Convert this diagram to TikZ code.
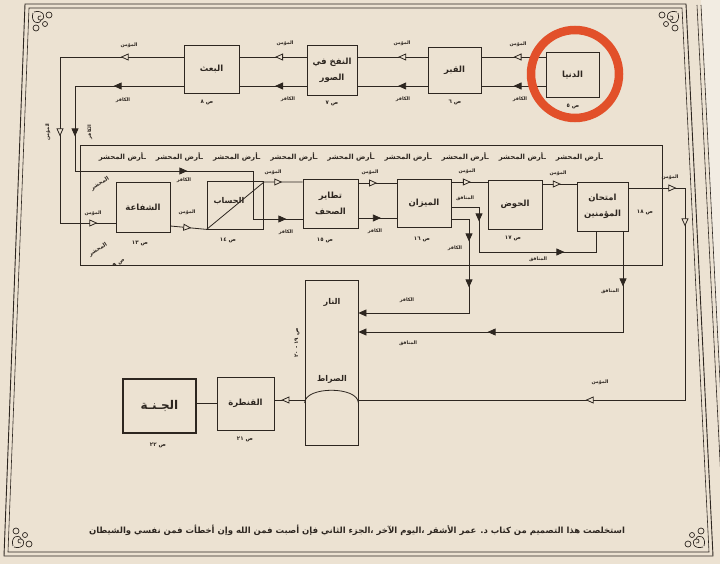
\documentclass[tikz,border=0pt]{standalone}
\usepackage{fontspec}
\newfontfamily\arabicfont[Script=Arabic]{DejaVu Sans}
\TeXXeTstate=1
\usetikzlibrary{arrows.meta,decorations.markings}
\definecolor{paper}{RGB}{236,226,210}
\definecolor{paper2}{RGB}{242,236,226}
\definecolor{ink}{RGB}{45,38,32}
\definecolor{ring}{RGB}{226,80,42}
\newcommand{\AR}[1]{\beginR #1\endR}
\newcommand{\mahunit}{ـأرض المحشر}
\newcommand{\mahgap}{\hspace{10pt}}
\tikzset{
  every node/.style={text=ink},
  box/.style={draw=ink, line width=0.8pt, inner sep=0pt, align=center, font=\arabicfont\bfseries\fontsize{8.5}{16}\selectfont},
  boxtxt/.style={inner sep=0pt, font=\arabicfont\bfseries\fontsize{8}{10}\selectfont},
  lbl/.style={inner sep=0pt, font=\arabicfont\bfseries\fontsize{4.8}{6}\selectfont},
  pg/.style={inner sep=0pt, font=\arabicfont\bfseries\fontsize{5.5}{7}\selectfont},
  conn/.style={draw=ink, line width=0.8pt},
  tipf/.style={-{Triangle[length=8pt,width=7pt]}},
  oarr/.style={postaction={decorate,decoration={markings,mark=at position #1 with {\arrow{Triangle[length=8pt,width=7pt,fill=paper,line width=0.8pt]}}}}},
  farr/.style={postaction={decorate,decoration={markings,mark=at position #1 with {\arrow{Triangle[length=8pt,width=7pt]}}}}},
  orn/.pic={
    \draw[ink,line width=0.7pt] (3,2) .. controls (12,-1) and (16,8) .. (10,10) .. controls (6,11) and (6,5) .. (10,6);
    \draw[ink,line width=0.7pt] (2,3) .. controls (-1,12) and (8,16) .. (10,10);
    \draw[ink,line width=0.7pt] (18,5) circle[radius=3];
    \draw[ink,line width=0.7pt] (5,18) circle[radius=3];
    \draw[ink,line width=0.7pt] (14,14) circle[radius=2.5];
  }
}
\begin{document}
\begin{tikzpicture}[x=1pt,y=-1pt]
\useasboundingbox (0,0) rectangle (720,564);
\fill[paper] (0,0) rectangle (720,564);
\clip (0,0) rectangle (720,564);
% next page sliver
\fill[paper2] (701,0) -- (720,0) -- (720,564) -- (728,564) -- cycle;
\draw[ink,line width=0.6pt] (697,5) -- (725,560);
\draw[ink,line width=0.6pt] (701,5) -- (729,560);
% page frame
\draw[ink,line width=0.9pt] (25,4) -- (686,4) -- (713,556) -- (4,556) -- cycle;
\draw[ink,line width=0.6pt] (29,8) -- (682,8) -- (709,552) -- (8,552) -- cycle;
\pic at (31,10) {orn};
\pic[xscale=-1] at (680,10) {orn};
\pic[yscale=-1] at (11,549) {orn};
\pic[xscale=-1,yscale=-1] at (706,549) {orn};

% mahshar area
\node[draw=ink,line width=0.8pt,minimum width=582,minimum height=120,inner sep=0pt] (mahshar) at (371,205) {};
\node[inner sep=0pt,font=\arabicfont\bfseries\fontsize{7}{8}\selectfont] (mrow) at (351,157) {\AR{\mahunit\mahgap\mahunit\mahgap\mahunit\mahgap\mahunit\mahgap\mahunit\mahgap\mahunit\mahgap\mahunit\mahgap\mahunit\mahgap\mahunit}};
\node[pg,rotate=32] (mc1) at (100,184) {\AR{المحشر}};
\node[pg,rotate=32] (mc2) at (98,250) {\AR{المحشر}};
\node[pg,rotate=32] (mc3) at (119,263) {\AR{ص ٩}};

% boxes
\node[box,minimum width=53,minimum height=45] (dunya) at (572.5,74.5) {\AR{الدنيا}};
\node[box,minimum width=53,minimum height=46] (qabr) at (454.5,70) {\AR{القبر}};
\node[box,minimum width=50,minimum height=50] (nafkh) at (332,70) {\AR{النفخ في}\\\AR{الصور}};
\node[box,minimum width=55,minimum height=48] (baath) at (211.5,69) {\AR{البعث}};
\node[box,minimum width=54,minimum height=50] (shafaa) at (143,207) {\AR{الشفاعة}};
\node[box,minimum width=56,minimum height=48] (hisab) at (235,205) {};
\node[boxtxt] (hisabt) at (229,201) {\AR{الحساب}};
\node[box,minimum width=55,minimum height=49] (tatayur) at (330.5,203.5) {\AR{تطاير}\\\AR{الصحف}};
\node[box,minimum width=54,minimum height=48] (mizan) at (424,203) {\AR{الميزان}};
\node[box,minimum width=54,minimum height=49] (hawd) at (515,204.5) {\AR{الحوض}};
\node[box,minimum width=51,minimum height=49] (imtihan) at (602.5,206.5) {\AR{امتحان}\\\AR{المؤمنين}};
\node[box,minimum width=53,minimum height=165] (nar) at (331.5,362.5) {};
\node[boxtxt] (nart) at (332,302) {\AR{النار}};
\node[boxtxt] (sirat) at (332,379) {\AR{الصراط}};
\node[box,minimum width=57,minimum height=53] (qantara) at (245.5,403.5) {\AR{القنطرة}};
\node[box,line width=2pt,minimum width=73,minimum height=54,font=\arabicfont\bfseries\fontsize{12}{14}\selectfont] (janna) at (159.5,406) {\AR{الجـنـة}};

% bridge arch
\draw[ink,line width=0.8pt] (nar.west |- 0,403) .. controls (305,386) and (358,386) .. (nar.east |- 0,403);
% hisab diagonal exit
\coordinate (hx) at (264,182);

% top row
\draw[conn,oarr=0.5] (dunya.west |- 0,57) -- (qabr.east |- 0,57);
\draw[conn,farr=0.5] (dunya.west |- 0,86) -- (qabr.east |- 0,86);
\draw[conn,oarr=0.42] (qabr.west |- 0,57) -- (nafkh.east |- 0,57);
\draw[conn,farr=0.42] (qabr.west |- 0,86) -- (nafkh.east |- 0,86);
\draw[conn,oarr=0.47] (nafkh.west |- 0,57) -- (baath.east |- 0,57);
\draw[conn,farr=0.47] (nafkh.west |- 0,86) -- (baath.east |- 0,86);

% left loops
\coordinate (L1) at (60,57);
\coordinate (L2) at (60,223);
\draw[conn,oarr=63pt,oarr=203pt,oarr=327pt] (baath.west |- 0,57) -- (L1) -- (L2) -- (shafaa.west |- L2);
\coordinate (K1) at (75,86);
\coordinate (K2) at (75,171);
\coordinate (K3) at (253,171);
\coordinate (K4) at (253,219);
\draw[conn,farr=70pt,farr=159pt,farr=306pt,farr=453pt] (baath.west |- 0,86) -- (K1) -- (K2) -- (K3) -- (K4) -- (tatayur.west |- K4);
\draw[conn,oarr=21pt,oarr=129pt] (shafaa.east |- 0,226) -- (hisab.south west) -- (hx) -- (tatayur.west |- hx);

% middle row
\draw[conn,oarr=0.49] (tatayur.east |- 0,183) -- (mizan.west |- 0,183);
\draw[conn,farr=0.59] (tatayur.east |- 0,218) -- (mizan.west |- 0,218);
\draw[conn,oarr=0.54] (mizan.east |- 0,182) -- (hawd.west |- 0,182);
\draw[conn,oarr=0.54] (hawd.east |- 0,184) -- (imtihan.west |- 0,184);

% believers to the bridge
\coordinate (M1) at (685,188);
\coordinate (M2) at (685,400);
\draw[conn,oarr=48pt,oarr=95pt,oarr=368pt] (imtihan.east |- M1) -- (M1) -- (M2) -- (nar.east |- M2);
\draw[conn,oarr=0.77] (nar.west |- M2) -- (qantara.east |- M2);
\draw[conn] (qantara.west |- 0,403) -- (janna.east |- 0,403);

% disbelievers from the scale
\coordinate (C1) at (469,219);
\coordinate (C2) at (469,313);
\draw[conn,tipf,farr=40pt,farr=86pt] (mizan.east |- C1) -- (C1) -- (C2) -- (nar.east |- C2);
% hypocrites from the scale to the test
\coordinate (H1) at (479,207);
\coordinate (H2) at (479,252);
\coordinate (H3) at (596,252);
\draw[conn,farr=42pt,farr=158pt] (mizan.east |- H1) -- (H1) -- (H2) -- (H3) -- (imtihan.south -| H3);
% hypocrites from the test to the fire
\coordinate (N1) at (623,332);
\draw[conn,tipf,farr=55pt,farr=236pt] (imtihan.south -| N1) -- (N1) -- (nar.east |- N1);

% labels
\node[lbl] (a1) at (518,44) {\AR{المؤمن}};
\node[lbl] (a2) at (402,43) {\AR{المؤمن}};
\node[lbl] (a3) at (285,43) {\AR{المؤمن}};
\node[lbl] (a4) at (129,45) {\AR{المؤمن}};
\node[lbl] (b1) at (520,99) {\AR{الكافر}};
\node[lbl] (b2) at (403,99) {\AR{الكافر}};
\node[lbl] (b3) at (288,99) {\AR{الكافر}};
\node[lbl] (b4) at (123,100) {\AR{الكافر}};
\node[lbl,rotate=90] (a5) at (48,132) {\AR{المؤمن}};
\node[lbl,rotate=90] (b5) at (90,132) {\AR{الكافر}};
\node[lbl] (b6) at (184,180) {\AR{الكافر}};
\node[lbl] (b7) at (286,232) {\AR{الكافر}};
\node[lbl] (a6) at (273,172) {\AR{المؤمن}};
\node[lbl] (a7) at (93,213) {\AR{المؤمن}};
\node[lbl] (a8) at (187,212) {\AR{المؤمن}};
\node[lbl] (a9) at (370,172) {\AR{المؤمن}};
\node[lbl] (b8) at (375,231) {\AR{الكافر}};
\node[lbl] (a10) at (467,171) {\AR{المؤمن}};
\node[lbl] (a11) at (558,173) {\AR{المؤمن}};
\node[lbl] (a12) at (670,177) {\AR{المؤمن}};
\node[lbl] (a13) at (600,382) {\AR{المؤمن}};
\node[lbl] (n1) at (465,198) {\AR{المنافق}};
\node[lbl] (n2) at (538,259) {\AR{المنافق}};
\node[lbl] (b9) at (455,248) {\AR{الكافر}};
\node[lbl] (n3) at (610,291) {\AR{المنافق}};
\node[lbl] (b10) at (407,300) {\AR{الكافر}};
\node[lbl] (n4) at (408,343) {\AR{المنافق}};

% page numbers
\node[pg] (p5) at (573,106) {\AR{ص ٥}};
\node[pg] (p6) at (455,102) {\AR{ص ٦}};
\node[pg] (p7) at (332,103) {\AR{ص ٧}};
\node[pg] (p8) at (207,102) {\AR{ص ٨}};
\node[pg] (p13) at (140,243) {\AR{ص ١٣}};
\node[pg] (p14) at (228,240) {\AR{ص ١٤}};
\node[pg] (p15) at (325,240) {\AR{ص ١٥}};
\node[pg] (p16) at (422,239) {\AR{ص ١٦}};
\node[pg] (p17) at (513,238) {\AR{ص ١٧}};
\node[pg] (p18) at (645,212) {\AR{ص ١٨}};
\node[pg,rotate=90] (p19) at (297,343) {\AR{ص ١٩ - ٢٠}};
\node[pg] (p21) at (245,439) {\AR{ص ٢١}};
\node[pg] (p22) at (158,445) {\AR{ص ٢٢}};

% red highlight ring
\draw[ring,line width=8.5pt] (575,74) circle[radius=44];

% footer
\node[inner sep=0pt,font=\arabicfont\bfseries\fontsize{8.5}{10}\selectfont] (foot) at (357,530) {\AR{استخلصت هذا التصميم من كتاب د. عمر الأشقر ،اليوم الآخر ،الجزء الثاني فإن أصبت فمن الله وإن أخطأت فمن نفسي والشيطان}};
\end{tikzpicture}
\end{document}
